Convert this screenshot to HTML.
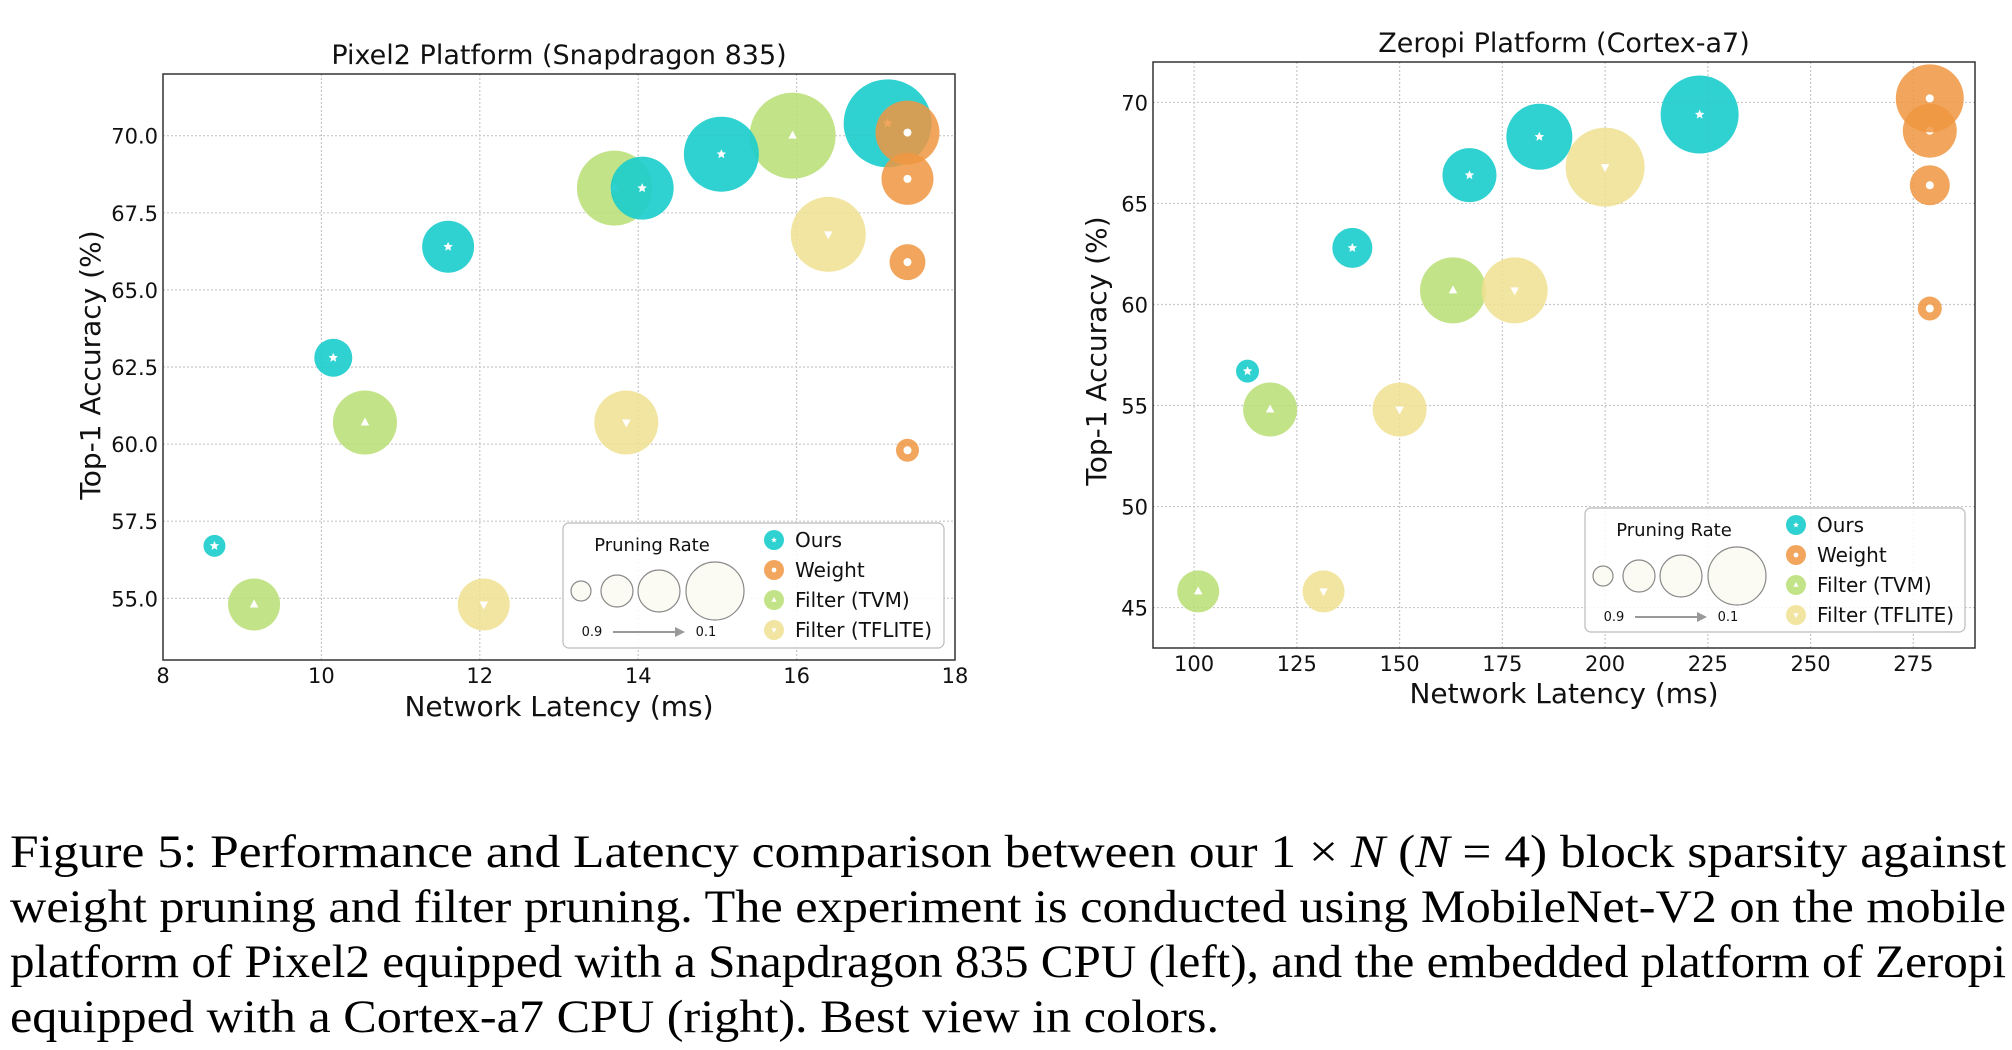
<!DOCTYPE html>
<html><head><meta charset="utf-8">
<style>
html,body{margin:0;padding:0;background:#fff;}
svg{display:block;font-family:"DejaVu Sans","Liberation Sans",sans-serif;}
.cap{font-family:"Liberation Serif",serif;font-size:47px;fill:#000;}
</style></head>
<body>
<svg id="fig" width="2012" height="1050" viewBox="0 0 2012 1050">
<g id="left"></g>
<g id="right"></g>
<g>
<text class="cap" x="10" y="867" textLength="1996" lengthAdjust="spacingAndGlyphs">Figure 5: Performance and Latency comparison between our 1 × <tspan font-style="italic">N</tspan> (<tspan font-style="italic">N</tspan> = 4) block sparsity against</text>
<text class="cap" x="10" y="922" textLength="1996" lengthAdjust="spacingAndGlyphs">weight pruning and filter pruning. The experiment is conducted using MobileNet-V2 on the mobile</text>
<text class="cap" x="10" y="977" textLength="1996" lengthAdjust="spacingAndGlyphs">platform of Pixel2 equipped with a Snapdragon 835 CPU (left), and the embedded platform of Zeropi</text>
<text class="cap" x="10" y="1032" textLength="1209" lengthAdjust="spacingAndGlyphs">equipped with a Cortex-a7 CPU (right). Best view in colors.</text>
</g>
</svg>
<script>
// ---- Pixel2 data ----
const pxOursX=[8.65,10.15,11.6,14.05,15.05,17.15];
const pxOursY=[56.7,62.8,66.4,68.3,69.4,70.4];
const pxOursR=[11,19,26,31.5,37.5,44];
const pxWeightX=[17.4,17.4,17.4,17.4];
const pxWeightY=[59.8,65.9,68.6,70.1];
const pxWeightR=[11.5,18,26,32];
const pxTvmX=[9.15,10.55,13.7,15.95];
const pxTvmY=[54.8,60.7,68.3,70.0];
const pxTvmR=[26,32,37.5,43];
const pxTfX=[12.05,13.85,16.4];
const pxTfY=[54.8,60.7,66.8];
const pxTfR=[26,32,37.5];
const pxXTicks=[8,10,12,14,16,18];
const pxYTicks=["55.0","57.5","60.0","62.5","65.0","67.5","70.0"];
// ---- Zeropi data ----
const zpOursX=[113,138.5,167,184,223];
const zpOursY=[56.7,62.8,66.4,68.3,69.4];
const zpOursR=[11.5,20,27,33,39];
const zpWeightX=[279,279,279,279];
const zpWeightY=[59.8,65.9,68.6,70.2];
const zpWeightR=[12,20,27,34];
const zpTvmX=[101,118.5,163];
const zpTvmY=[45.8,54.8,60.7];
const zpTvmR=[21,27,33];
const zpTfX=[131.5,150,178,200];
const zpTfY=[45.8,54.8,60.7,66.8];
const zpTfR=[21,27,33,39.5];
const zpXTicks=[100,125,150,175,200,225,250,275];
const zpYTicks=["45","50","55","60","65","70"];

const NS="http://www.w3.org/2000/svg";
const COL={ours:"rgba(25,204,204,0.9)",weight:"rgba(240,150,65,0.85)",tvm:"rgba(185,222,115,0.85)",tf:"rgba(240,225,145,0.85)"};
function mk(parent,tag,attrs,text){const e=document.createElementNS(NS,tag);for(const k in attrs)e.setAttribute(k,attrs[k]);if(text!==undefined)e.textContent=text;parent.appendChild(e);return e;}
function marker(g,type,cx,cy,s){
  let e;
  if(type==="ours"){let p=[];for(let i=0;i<10;i++){const a=-Math.PI/2+i*Math.PI/5;const r=i%2?s*0.45:s;p.push((cx+r*Math.cos(a)).toFixed(1)+","+(cy+r*Math.sin(a)).toFixed(1));}
    e=mk(g,"polygon",{points:p.join(" "),fill:"#fff"});}
  else if(type==="weight"){e=mk(g,"circle",{cx:cx,cy:cy,r:s*0.8,fill:"#fff"});}
  else if(type==="tvm"){e=mk(g,"polygon",{points:`${cx},${cy-s} ${cx-s*0.85},${cy+s*0.6} ${cx+s*0.85},${cy+s*0.6}`,fill:"#fff"});}
  else {e=mk(g,"polygon",{points:`${cx},${cy+s} ${cx-s*0.85},${cy-s*0.6} ${cx+s*0.85},${cy-s*0.6}`,fill:"#fff"});}
  
  
}
function chart(g,cfg){
  const {L,R,T,B,xmin,xmax,ymin,ymax}=cfg;
  const X=v=>L+(v-xmin)/(xmax-xmin)*(R-L);
  const Y=v=>B-(v-ymin)/(ymax-ymin)*(B-T);
  // grid
  cfg.xt.forEach(v=>{const x=X(+v);
    if(x>L+1&&x<R-1){const l=mk(g,"line",{x1:x,x2:x,y1:T,y2:B,stroke:"#c8c8c8","stroke-width":1.2,"stroke-dasharray":"2,2"});
      }
    const t=mk(g,"text",{x:x,y:cfg.xtY,"font-size":21,"text-anchor":"middle",fill:"#111"},String(v));
    });
  cfg.yt.forEach(v=>{const y=Y(+v);
    const l=mk(g,"line",{x1:L,x2:R,y1:y,y2:y,stroke:"#c8c8c8","stroke-width":1.2,"stroke-dasharray":"2,2"});
    
    const t=mk(g,"text",{x:L-5,y:y+8,"font-size":21,"text-anchor":"end",fill:"#111"},v);
    });
  // series
  cfg.series.forEach(s=>{
    const sg=mk(g,"g",{});
    
    
    s.x.forEach((xv,i)=>{
      const c=mk(sg,"circle",{cx:X(xv),cy:Y(s.y[i]),r:s.r[i],fill:COL[s.type]});
      
      
      marker(sg,s.type,X(xv),Y(s.y[i]),5);
    });
  });
  const fr=mk(g,"rect",{x:L,y:T,width:R-L,height:B-T,fill:"none",stroke:"#333","stroke-width":1.5});
  
  const ti=mk(g,"text",{x:(L+R)/2,y:cfg.titleY,"font-size":27,"text-anchor":"middle",fill:"#111"},cfg.title);
  
  const xl=mk(g,"text",{x:(L+R)/2,y:cfg.xlY,"font-size":28,"text-anchor":"middle",fill:"#111"},"Network Latency (ms)");
  
  const yl=mk(g,"text",{x:0,y:0,"font-size":28,"text-anchor":"middle",fill:"#111",transform:`translate(${cfg.ylX},${cfg.ylY}) rotate(-90)`},"Top-1 Accuracy (%)");
  
  // legend
  const lg=cfg.lg;
  const leg=mk(g,"g",{});
  
  mk(leg,"rect",{x:lg.x,y:lg.y,width:lg.w,height:lg.h,rx:6,fill:"rgba(255,255,255,0.85)",stroke:"#bbb","stroke-width":1.2});
  mk(leg,"text",{x:lg.x+89,y:lg.y+28,"font-size":18,"text-anchor":"middle",fill:"#111"},"Pruning Rate");
  [[18,10],[54,16],[96,21],[152,29]].forEach(([dx,r])=>{const c=mk(leg,"circle",{cx:lg.x+dx,cy:lg.y+68,r:r,fill:"#fbfbf3",stroke:"#888","stroke-width":1.2});
    });
  mk(leg,"text",{x:lg.x+29,y:lg.y+113,"font-size":13,"text-anchor":"middle",fill:"#111"},"0.9");
  mk(leg,"text",{x:lg.x+143,y:lg.y+113,"font-size":13,"text-anchor":"middle",fill:"#111"},"0.1");
  mk(leg,"line",{x1:lg.x+50,x2:lg.x+118,y1:lg.y+109,y2:lg.y+109,stroke:"#999","stroke-width":2});
  mk(leg,"polygon",{points:`${lg.x+122},${lg.y+109} ${lg.x+112},${lg.y+104} ${lg.x+112},${lg.y+114}`,fill:"#999"});
  [["ours","Ours"],["weight","Weight"],["tvm","Filter (TVM)"],["tf","Filter (TFLITE)"]].forEach(([t,lab],i)=>{
    const yy=lg.y+17+i*30;
    const c=mk(leg,"circle",{cx:lg.x+211,cy:yy,r:10,fill:COL[t]});
    
    marker(leg,t,lg.x+211,yy,3);
    mk(leg,"text",{x:lg.x+232,y:yy+7,"font-size":20,fill:"#111"},lab);
  });
}
chart(document.getElementById("left"),{L:163,R:955,T:74,B:660,xmin:8,xmax:18,ymin:53,ymax:72,
  xt:pxXTicks,yt:pxYTicks,xtY:683,title:"Pixel2 Platform (Snapdragon 835)",titleY:64,xlY:716,ylX:100,ylY:365,
  lg:{x:563,y:523,w:381,h:125},
  series:[{type:"tvm",x:pxTvmX,y:pxTvmY,r:pxTvmR},{type:"tf",x:pxTfX,y:pxTfY,r:pxTfR},
          {type:"ours",x:pxOursX,y:pxOursY,r:pxOursR},{type:"weight",x:pxWeightX,y:pxWeightY,r:pxWeightR}]});
chart(document.getElementById("right"),{L:1153,R:1975,T:62,B:648,xmin:90,xmax:290,ymin:43,ymax:72,
  xt:zpXTicks,yt:zpYTicks,xtY:671,title:"Zeropi Platform (Cortex-a7)",titleY:52,xlY:703,ylX:1106,ylY:351,
  lg:{x:1585,y:508,w:380,h:124},
  series:[{type:"tvm",x:zpTvmX,y:zpTvmY,r:zpTvmR},{type:"tf",x:zpTfX,y:zpTfY,r:zpTfR},
          {type:"ours",x:zpOursX,y:zpOursY,r:zpOursR},{type:"weight",x:zpWeightX,y:zpWeightY,r:zpWeightR}]});
</script>
</body></html>
